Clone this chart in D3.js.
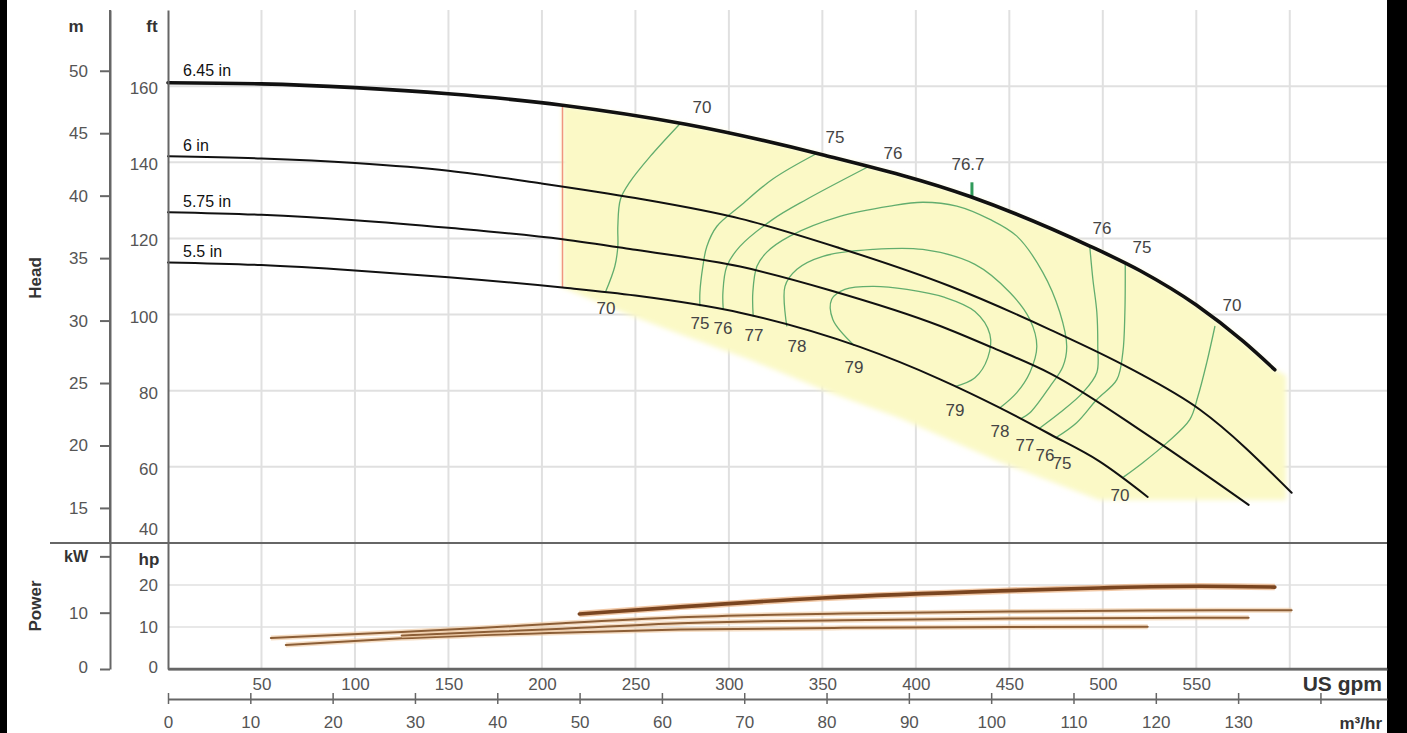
<!DOCTYPE html>
<html><head><meta charset="utf-8">
<script src="https://cdn.jsdelivr.net/npm/d3@7"></script>
<style>
html,body{margin:0;padding:0;background:#fff;}
svg{display:block;}
text{font-family:"Liberation Sans",Arial,Helvetica,sans-serif;}
</style></head><body><svg id="c" width="1407" height="733"></svg>
<script>
// ---------------- data ----------------
const gpmTicks = [50,100,150,200,250,300,350,400,450,500,550];
const gpmGrid = [50,100,150,200,250,300,350,400,450,500,550,600];
const m3hTicks = [0,10,20,30,40,50,60,70,80,90,100,110,120,130,140];
const mTicks = [15,20,25,30,35,40,45,50];
const ftTicks = [40,60,80,100,120,140,160];
const ftGrid = [60,80,100,120,140,160];
const kwTicks = [0,10,20];
const hpTicks = [0,10,20];
const hpGrid = [10,20];

// head curves [US gpm, ft]
const head645 = [[0,160.9],[50,160.6],[100,159.6],[150,158],[211,155],[277,150],[350,142],[429,131],[493,118],[520,111.5],[550,102.5],[575,93],[592,85.5]];
const head600 = [[0,141.6],[50,141],[100,139.8],[150,137.8],[199,134.5],[250,130.6],[306,125.2],[359,117.5],[418,107.5],[472,96],[514,86],[552,75],[601,53.2]];
const head575 = [[0,126.9],[50,126.2],[100,124.8],[150,122.8],[211,119.8],[250,117],[306,112.6],[354,106.4],[413,97],[440,91.5],[472,84.5],[525,68],[578,50]];
const head550 = [[0,113.7],[50,113],[100,111.6],[150,109.8],[211,107.1],[250,105],[306,100.5],[370,91.5],[413,83],[445,75.5],[472,68.5],[498,61.5],[524,52.1]];
const impellers = ["6.45 in","6 in","5.75 in","5.5 in"];

// power curves [US gpm, hp]
const power645 = [[220,13.1],[274,14.8],[350,16.9],[445,18.6],[498,19.3],[552,19.7],[592,19.5]];
const power600 = [[55,7.4],[125,8.8],[169,9.8],[211,10.9],[274,12.3],[361,13.2],[450,13.7],[524,13.95],[601,14.0]];
const power575 = [[125,8.0],[169,8.8],[211,9.6],[274,10.9],[361,11.6],[450,12.0],[524,12.15],[578,12.2]];
const power550 = [[63,5.7],[125,7.3],[204,8.6],[274,9.4],[361,9.8],[450,10.0],[524,10.05]];

// efficiency iso-lines [US gpm, ft]
const eff70L = [[274,150.2],[258,141.6],[247,134.8],[242,130.3],[240.6,123.2],[240.6,117.9],[239,112.7],[234,105.9]];
const eff70R = [[560,97],[555.6,87.4],[550.8,78.4],[546.5,72.4],[534.2,66.3],[521.4,61.1],[511,57.3]];
const eff75L = [[347,142.3],[323.5,135.6],[306,128.5],[293.6,123.2],[288.2,117.9],[286.1,112.7],[284.5,105.8],[284.5,102.2]];
const eff75R = [[512,113.2],[511.8,100.6],[510.7,90],[507.5,82.9],[496.8,77.7],[486,71.6],[475,67.7]];
const eff76L = [[374,138.7],[341.7,130.3],[323.5,125],[305.9,117.9],[298.9,112.7],[296.8,105.8],[297,101.2]];
const eff76R = [[493,118],[494.7,109.2],[496.8,100.6],[497.3,91.6],[496.8,84.8],[489.3,79.5],[477,74.2],[466,70.1]];
const eff77 = [[313,99.5],[312.8,105.8],[315,112.7],[320.3,116.4],[332.6,120.6],[359.4,125.8],[386.1,128.5],[403.7,129.5],[421.9,128.5],[439.6,125],[454,120.6],[467.9,111.1],[477,100.6],[480.7,91.6],[478.6,86.3],[471.7,81.1],[461,74.2],[456,72.6]];
const eff78 = [[331,96.9],[330,107.4],[336.4,111.9],[350.3,115.3],[377,117.1],[403.7,117.1],[431.6,113.2],[450.3,105.8],[461,98.7],[464.7,91.6],[461,84.8],[454,79.5],[445,75.5]];
const eff79 = [[367,91.9],[355.6,98.7],[355,104],[362,106.6],[377,107.4],[395.2,106.6],[415.5,104.5],[431.6,100.8],[439.6,94.8],[438.5,88.7],[431.6,83.4],[421,81.1]];
const bepFlow = 430, bepHead = 130.8;
// efficiency labels [text, US gpm, ft]
const effLabels = [
  ["70",234.3,101.7],["75",284.5,97.7],["76",296.8,96.4],["77",313.4,94.4],["78",336.4,91.5],["79",366.9,86.0],
  ["79",420.9,74.9],["78",445,69.2],["77",458.4,65.7],["76",469.1,63.1],["75",478.2,61.0],["70",509.2,52.6],
  ["70",285.6,154.3],["75",356.8,146.6],["76",387.8,142.4],["76.7",427.9,139.3],["76",499.6,122.7],["75",521,117.5],["70",569.1,102.5]
];
// preferred operating region lower/right edge [US gpm, ft]
const regionStart = 211;
const regionEdge = [[598,84],[598,51.3],[498,51.3],[445,61.3],[391,72.9],[354,79.5],[311,88.2],[274,94.8],[242,100.8],[211,107.1]];

// ---------------- scales ----------------
const FT_PER_M = 3.28084, GPM_PER_M3H = 4.40287, HP_TO_KW = 0.7457;
const x = d3.scaleLinear().domain([0,652]).range([168,1387]);
const xM3 = d3.scaleLinear().domain([0,652/GPM_PER_M3H]).range([168,1387]);
const yFt = d3.scaleLinear().domain([40,180]).range([543,10]);
const yM = d3.scaleLinear().domain([40/FT_PER_M,180/FT_PER_M]).range([543,10]);
const yHp = d3.scaleLinear().domain([0,30]).range([669,543]);
const yKw = d3.scaleLinear().domain([0,30*HP_TO_KW]).range([669,543]);

const svg = d3.select("#c");
const gridC = "#e0e0e0", axisC = "#666", lblC = "#555";

// black frame strips
svg.append("rect").attr("x",0).attr("y",0).attr("width",7).attr("height",733).attr("fill","#000");
svg.append("rect").attr("x",1387).attr("y",0).attr("width",20).attr("height",733).attr("fill","#000");

// blur filter for region
const defs = svg.append("defs");
defs.append("filter").attr("id","soft").attr("x","-5%").attr("y","-5%").attr("width","110%").attr("height","110%")
  .append("feGaussianBlur").attr("stdDeviation",2.5);

// grid
const g = svg.append("g");
g.selectAll(".vg").data(gpmGrid).join("line").attr("x1",d=>x(d)).attr("x2",d=>x(d)).attr("y1",10).attr("y2",669)
  .attr("stroke",gridC).attr("stroke-width",2);
g.selectAll(".hg").data(ftGrid).join("line").attr("x1",168).attr("x2",1387).attr("y1",d=>yFt(d)).attr("y2",d=>yFt(d))
  .attr("stroke",gridC).attr("stroke-width",2);
g.selectAll(".pg").data(hpGrid).join("line").attr("x1",168).attr("x2",1387).attr("y1",d=>yHp(d)).attr("y2",d=>yHp(d))
  .attr("stroke",gridC).attr("stroke-width",1.5);

// region
const lineH = d3.line().x(d=>x(d[0])).y(d=>yFt(d[1])).curve(d3.curveMonotoneX);
const lineLin = d3.line().x(d=>x(d[0])).y(d=>yFt(d[1]));
const topPts = head645.filter(d=>d[0]>=regionStart);
const regionPath = lineH(topPts) + lineLin(regionEdge).replace(/^M/,"L") + "Z";
svg.append("path").attr("d",regionPath).attr("fill","#fbf9c6").attr("filter","url(#soft)");
// region left boundary (red)
const h645at = d3.scaleLinear().domain(head645.map(d=>d[0])).range(head645.map(d=>d[1]));
const h550at = d3.scaleLinear().domain(head550.map(d=>d[0])).range(head550.map(d=>d[1]));
svg.append("line").attr("x1",x(regionStart)).attr("x2",x(regionStart))
  .attr("y1",yFt(h645at(regionStart))).attr("y2",yFt(h550at(regionStart)))
  .attr("stroke","#f0957f").attr("stroke-width",1.5);

// efficiency lines
const lineE = d3.line().x(d=>x(d[0])).y(d=>yFt(d[1])).curve(d3.curveCatmullRom.alpha(0.5));
[eff70L,eff70R,eff75L,eff75R,eff76L,eff76R,eff77,eff78,eff79].forEach(c=>{
  svg.append("path").attr("d",lineE(c)).attr("fill","none").attr("stroke","#62ad6e").attr("stroke-width",1.3);
});
svg.append("line").attr("x1",x(bepFlow)).attr("x2",x(bepFlow)).attr("y1",yFt(bepHead)).attr("y2",yFt(bepHead)-15)
  .attr("stroke","#2f9a5a").attr("stroke-width",3);

// head curves
const heads = [head645,head600,head575,head550];
heads.forEach((c,i)=>{
  svg.append("path").attr("d",lineH(c)).attr("fill","none").attr("stroke","#111")
    .attr("stroke-width",i===0?3.6:2).attr("stroke-linecap","round");
  svg.append("text").attr("x",x(0)+15).attr("y",yFt(c[0][1])-(i===0?7:5))
    .attr("font-size",16).attr("fill","#111").text(impellers[i]);
});

// efficiency labels
svg.selectAll(".el").data(effLabels).join("text").attr("x",d=>x(d[1])).attr("y",d=>yFt(d[2]))
  .attr("text-anchor","middle").attr("dominant-baseline","central").attr("font-size",17).attr("fill","#444").text(d=>d[0]);

// power curves
const lineP = d3.line().x(d=>x(d[0])).y(d=>yHp(d[1])).curve(d3.curveMonotoneX);
[[power550,false],[power575,false],[power600,false],[power645,true]].forEach(([c,big])=>{
  svg.append("path").attr("d",lineP(c)).attr("fill","none").attr("stroke",big?"#e7a46a":"#efc79c")
    .attr("stroke-width",big?6.5:5).attr("stroke-opacity",0.6);
  svg.append("path").attr("d",lineP(c)).attr("fill","none").attr("stroke",big?"#7a4520":"#8c5e36")
    .attr("stroke-width",big?3.6:2).attr("stroke-linecap","round");
});

// axes
function styleAxis(sel, fs){
  sel.selectAll("text").attr("font-size",fs).attr("fill",lblC);
  sel.selectAll("line").attr("stroke",axisC).attr("stroke-width",2);
  sel.select(".domain").attr("stroke",axisC).attr("stroke-width",2);
}
// m axis
const aM = svg.append("g").attr("transform","translate(110,0)")
  .call(d3.axisLeft(yM).tickValues(mTicks).tickSize(10).tickSizeOuter(0).tickPadding(12));
styleAxis(aM,17);
// ft axis
const aF = svg.append("g").attr("transform","translate(168,0)")
  .call(d3.axisLeft(yFt).tickValues(ftTicks).tickSize(0).tickPadding(10));
styleAxis(aF,17);
aF.selectAll(".tick text").attr("y",d=>d===40?-14:2);
// kW axis
const aK = svg.append("g").attr("transform","translate(110,0)")
  .call(d3.axisLeft(yKw).tickValues(kwTicks).tickSize(10).tickSizeOuter(0).tickPadding(12).tickFormat(d=>d===20?"kW":d));
styleAxis(aK,17);
aK.selectAll(".tick text").filter(d=>d===20).attr("font-weight","bold").attr("fill","#333").attr("font-size",16);
aK.selectAll(".tick text").filter(d=>d===0).attr("y",-2);
// hp axis
const aH = svg.append("g").attr("transform","translate(168,0)")
  .call(d3.axisLeft(yHp).tickValues(hpTicks).tickSize(0).tickPadding(10));
styleAxis(aH,17);
aH.selectAll(".tick text").filter(d=>d===0).attr("y",-2);
// gpm axis
const aG = svg.append("g").attr("transform","translate(0,669)")
  .call(d3.axisBottom(x).tickValues(gpmTicks).tickSize(0).tickPadding(9));
styleAxis(aG,17);
// m3/h axis
const aX = svg.append("g").attr("transform","translate(0,699)")
  .call(d3.axisBottom(xM3).tickValues(m3hTicks).tickSize(5).tickSizeOuter(0).tickPadding(12).tickFormat(d=>d===140?"":d));
styleAxis(aX,17);
aX.selectAll(".tick line").attr("y1",-6).attr("stroke-width",1.5);

// panel separators
svg.append("line").attr("x1",50).attr("x2",1387).attr("y1",543).attr("y2",543).attr("stroke",axisC).attr("stroke-width",2);
svg.append("line").attr("x1",168).attr("x2",1387).attr("y1",669).attr("y2",669).attr("stroke",axisC).attr("stroke-width",2.5);
svg.append("line").attr("x1",110).attr("x2",110).attr("y1",10).attr("y2",543).attr("stroke",axisC).attr("stroke-width",2);

// unit labels
const unit = (t,xx,yy,fs)=>svg.append("text").attr("x",xx).attr("y",yy).attr("text-anchor","middle")
  .attr("dominant-baseline","central").attr("font-weight","bold").attr("font-size",fs).attr("fill","#333").text(t);
unit("m",76,26,17); unit("ft",152,26,17); unit("hp",149,559,17);
svg.append("text").attr("x",1382).attr("y",691).attr("text-anchor","end").attr("font-weight","bold")
  .attr("font-size",21).attr("fill","#333").text("US gpm");
svg.append("text").attr("x",1382).attr("y",729).attr("text-anchor","end").attr("font-weight","bold")
  .attr("font-size",17).attr("fill","#333").text("m³/hr");
svg.append("text").attr("transform","translate(41,278) rotate(-90)").attr("text-anchor","middle")
  .attr("font-weight","bold").attr("font-size",17).attr("fill","#333").text("Head");
svg.append("text").attr("transform","translate(41,606) rotate(-90)").attr("text-anchor","middle")
  .attr("font-weight","bold").attr("font-size",17).attr("fill","#333").text("Power");
</script></body></html>
